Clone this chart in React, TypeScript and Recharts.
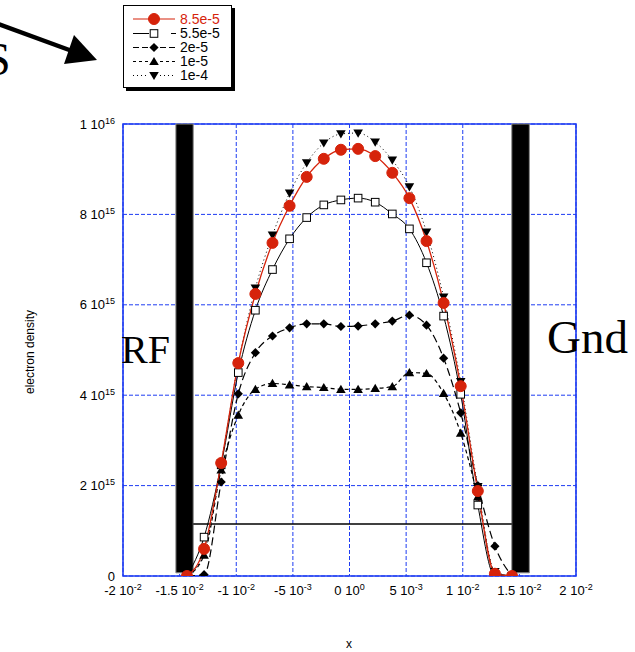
import React from "react";
import {
  CartesianGrid,
  Line,
  LineChart,
  ReferenceArea,
  ReferenceLine,
  XAxis,
  YAxis,
} from "recharts";

// positions of the grid points (m)
const xPos = [
  -0.01435, -0.01284, -0.01133, -0.00982, -0.00831, -0.0068, -0.00529, -0.00378, -0.00227, -0.00076,
  0.00076, 0.00227, 0.00378, 0.00529, 0.0068, 0.00831, 0.00982, 0.01133, 0.01284, 0.01435,
];

// electron density, in units of 1e15
const dens85e5 = [0, 0.6, 2.5, 4.71, 6.24, 7.37, 8.19, 8.83, 9.23, 9.43, 9.45, 9.29, 8.92, 8.36, 7.41, 6.04, 4.2, 1.88, 0.05, 0];
const dens55e5 = [0, 0.86, 2.46, 4.5, 5.88, 6.78, 7.46, 7.93, 8.21, 8.32, 8.36, 8.27, 8.01, 7.68, 6.93, 5.75, 4.02, 1.57, 0, 0];
const dens2e5 = [0, 0.03, 2.08, 4.03, 4.94, 5.31, 5.49, 5.58, 5.58, 5.52, 5.53, 5.58, 5.64, 5.77, 5.55, 4.82, 3.61, 2.0, 0.66, 0];
const dens1e5 = [0, 0.46, 2.35, 3.56, 4.13, 4.26, 4.23, 4.19, 4.17, 4.13, 4.13, 4.15, 4.19, 4.5, 4.48, 4.04, 3.16, 1.75, 0.07, 0];
const dens1e4 = [0, 0.52, 2.5, 4.71, 6.37, 7.54, 8.47, 9.14, 9.58, 9.78, 9.8, 9.6, 9.2, 8.61, 7.61, 6.17, 4.3, 1.98, 0.1, 0];

const seriesNames = ["8.5e-5", "5.5e-5", "2e-5", "1e-5", "1e-4"];

const xTicks = [-0.02, -0.015, -0.01, -0.005, 0, 0.005, 0.01, 0.015, 0.02];
const xTickMant = ["-2 10", "-1.5 10", "-1 10", "-5 10", "0 10", "5 10", "1 10", "1.5 10", "2 10"];
const xTickExp = ["-2", "-2", "-2", "-3", "0", "-3", "-2", "-2", "-2"];

const yTicks = [0, 2, 4, 6, 8, 10];
const yTickMant = ["0", "2 10", "4 10", "6 10", "8 10", "1 10"];
const yTickExp = ["", "15", "15", "15", "15", "16"];

// electrodes and the flat line between them
const leftElectrode = [-0.01533, -0.0138];
const rightElectrode = [0.01433, 0.01588];
const electrodeSpan = [0.07, 10];
const flatLevel = 1.15;

const RED = "#d6230b";
const BLUE = "#1e3cf2";
const SANS = "'Liberation Sans', Arial, Helvetica, sans-serif";
const SERIF = "'Liberation Serif', 'Times New Roman', serif";

const rows = xPos.map((x, i) => ({
  x,
  a: dens85e5[i],
  b: dens55e5[i],
  c: dens2e5[i],
  d: dens1e5[i],
  e: dens1e4[i],
}));

function Circle({ cx, cy }: any) {
  if (cx == null || cy == null) return null;
  return <circle cx={cx} cy={cy} r={5.5} fill={RED} stroke={RED} />;
}
function Square({ cx, cy }: any) {
  if (cx == null || cy == null) return null;
  return <rect x={cx - 3.8} y={cy - 3.8} width={7.6} height={7.6} fill="#fff" stroke="#000" strokeWidth={1} />;
}
function Diamond({ cx, cy }: any) {
  if (cx == null || cy == null) return null;
  return <polygon points={`${cx},${cy - 4.6} ${cx + 4.6},${cy} ${cx},${cy + 4.6} ${cx - 4.6},${cy}`} fill="#000" />;
}
function TriUp({ cx, cy }: any) {
  if (cx == null || cy == null) return null;
  return <polygon points={`${cx},${cy - 4.6} ${cx + 4.8},${cy + 3.6} ${cx - 4.8},${cy + 3.6}`} fill="#000" />;
}
function TriDown({ cx, cy }: any) {
  if (cx == null || cy == null) return null;
  return <polygon points={`${cx - 4.8},${cy - 3.6} ${cx + 4.8},${cy - 3.6} ${cx},${cy + 4.6}`} fill="#000" />;
}

const dotOf = (Shape: any) => (p: any) => <Shape key={`m-${p.index}`} cx={p.cx} cy={p.cy} />;

function XTick({ x, y, index }: any) {
  return (
    <text x={x} y={y + 11} textAnchor="middle" fontFamily={SANS} fontSize={13} fill="#000">
      {xTickMant[index]}
      <tspan dy={-5} fontSize={9}>{xTickExp[index]}</tspan>
    </text>
  );
}

function YTick({ x, y, index }: any) {
  return (
    <text x={x} y={y + 4.5} textAnchor="end" fontFamily={SANS} fontSize={13} fill="#000">
      {yTickMant[index]}
      {yTickExp[index] ? <tspan dy={-5} fontSize={9}>{yTickExp[index]}</tspan> : null}
    </text>
  );
}

const legendStyles = [
  { color: RED, dash: undefined, Shape: Circle },
  { color: "#000", dash: undefined, Shape: Square },
  { color: "#000", dash: "6 3", Shape: Diamond },
  { color: "#000", dash: "3 3", Shape: TriUp },
  { color: "#000", dash: "1 3", Shape: TriDown },
];
const legendRowY = [19, 33.5, 47.5, 61.5, 75.5];

function Overlay() {
  return (
    <svg
      width={635}
      height={652}
      style={{ position: "absolute", left: 0, top: 0, pointerEvents: "none" }}
    >
      {/* arrow */}
      <line x1={-2} y1={24} x2={72} y2={51} stroke="#000" strokeWidth={4.5} />
      <polygon points="97,60 64,64 74,35" fill="#000" />
      <text x={-15} y={75} fontFamily={SERIF} fontSize={46} fill="#000">S</text>

      {/* legend */}
      <rect x={126} y={8} width={109} height={83} fill="#000" />
      <rect x={123.5} y={5.5} width={108} height={82} fill="#fff" stroke="#000" strokeWidth={1} />
      {seriesNames.map((name, i) => {
        const st = legendStyles[i];
        const y = legendRowY[i];
        const Shape = st.Shape;
        return (
          <g key={name}>
            {i === 0 ? (
              <line x1={133} y1={y} x2={175} y2={y} stroke={st.color} strokeWidth={1.2} />
            ) : (
              <>
                <line x1={133} y1={y} x2={149} y2={y} stroke={st.color} strokeWidth={1} strokeDasharray={st.dash} />
                <line x1={160} y1={y} x2={176} y2={y} stroke={st.color} strokeWidth={1} strokeDasharray={st.dash ?? "0 11 5"} />
              </>
            )}
            <Shape cx={154} cy={y} />
            <text x={180} y={y + 4.8} fontFamily={SANS} fontSize={14} fill={st.color}>{name}</text>
          </g>
        );
      })}

      <text x={121} y={363} fontFamily={SERIF} fontSize={40} fill="#000">RF</text>
      <text x={547} y={353} fontFamily={SERIF} fontSize={47} fill="#000">Gnd</text>

      <text
        x={0}
        y={0}
        transform="translate(34,352) rotate(-90)"
        textAnchor="middle"
        fontFamily={SANS}
        fontSize={12}
        fill="#000"
      >
        electron density
      </text>
      <text x={349} y={648} textAnchor="middle" fontFamily={SANS} fontSize={12} fill="#000">x</text>
    </svg>
  );
}

export default function App() {
  return (
    <div style={{ position: "absolute", left: 0, top: 0, width: 635, height: 652, background: "#fff" }}>
      <LineChart
        width={635}
        height={652}
        data={rows}
        margin={{ top: 124, right: 59, bottom: 46, left: 63 }}
        style={{ position: "absolute", left: 0, top: 0 }}
      >
        <CartesianGrid stroke={BLUE} strokeDasharray="4 2" strokeWidth={1} horizontalValues={yTicks} verticalValues={xTicks} />
        <XAxis
          type="number"
          dataKey="x"
          domain={[-0.02, 0.02]}
          ticks={xTicks}
          axisLine={false}
          tickLine={false}
          tick={<XTick />}
          height={30}
          allowDataOverflow
        />
        <YAxis
          type="number"
          domain={[0, 10]}
          ticks={yTicks}
          axisLine={false}
          tickLine={false}
          tick={<YTick />}
          width={60}
          allowDataOverflow
        />
        <ReferenceArea x1={-0.02} x2={0.02} y1={0} y2={10} fill="none" stroke={BLUE} strokeWidth={1.6} />
        <ReferenceArea
          x1={leftElectrode[0]}
          x2={leftElectrode[1]}
          y1={electrodeSpan[0]}
          y2={electrodeSpan[1]}
          fill="#000"
          fillOpacity={1}
          stroke="#8a8a8a"
          strokeWidth={1}
        />
        <ReferenceArea
          x1={rightElectrode[0]}
          x2={rightElectrode[1]}
          y1={electrodeSpan[0]}
          y2={electrodeSpan[1]}
          fill="#000"
          fillOpacity={1}
          stroke="#8a8a8a"
          strokeWidth={1}
        />
        <ReferenceLine
          segment={[
            { x: leftElectrode[1], y: flatLevel },
            { x: rightElectrode[0], y: flatLevel },
          ]}
          stroke="#000"
          strokeWidth={1.3}
        />
        <Line type="monotone" dataKey="e" stroke="#000" strokeWidth={1} strokeDasharray="1 3" dot={dotOf(TriDown)} isAnimationActive={false} />
        <Line type="monotone" dataKey="d" stroke="#000" strokeWidth={1.2} strokeDasharray="4 3" dot={dotOf(TriUp)} isAnimationActive={false} />
        <Line type="monotone" dataKey="c" stroke="#000" strokeWidth={1.2} strokeDasharray="8 4" dot={dotOf(Diamond)} isAnimationActive={false} />
        <Line type="monotone" dataKey="b" stroke="#000" strokeWidth={1} dot={dotOf(Square)} isAnimationActive={false} />
        <Line type="monotone" dataKey="a" stroke={RED} strokeWidth={1.3} dot={dotOf(Circle)} isAnimationActive={false} />
      </LineChart>
      <Overlay />
    </div>
  );
}
